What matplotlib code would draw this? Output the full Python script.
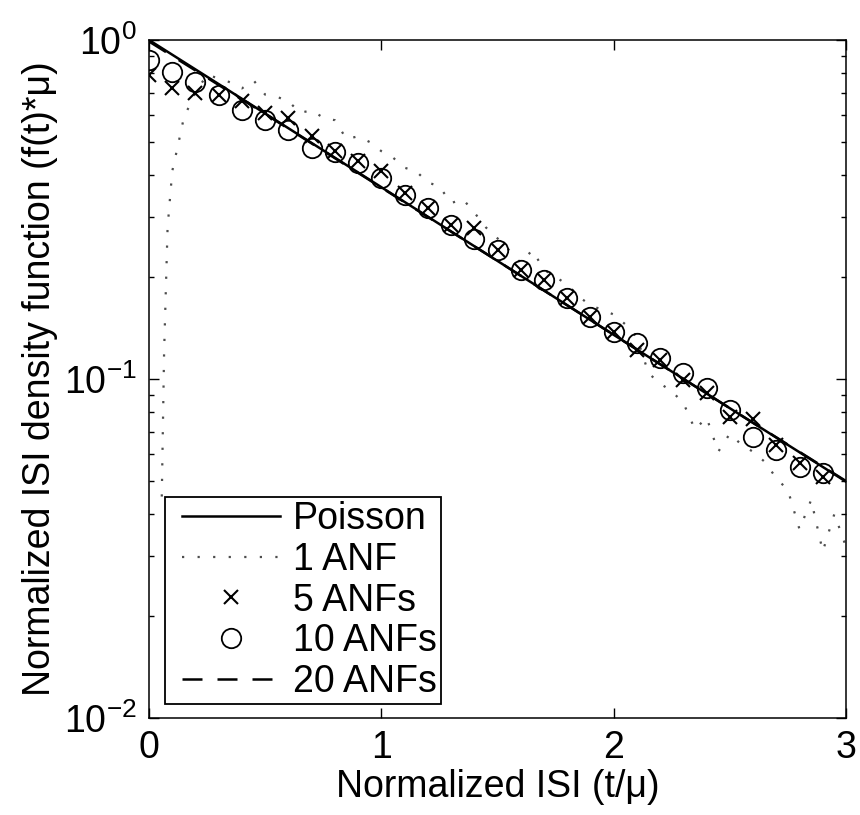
import matplotlib
matplotlib.use("Agg")
import matplotlib.pyplot as plt
from matplotlib.ticker import LogLocator, FixedLocator, NullLocator
from matplotlib.legend_handler import HandlerLine2D
from matplotlib.lines import Line2D

plt.rcParams['font.family'] = ['Liberation Sans', 'DejaVu Sans']
plt.rcParams['mathtext.fontset'] = 'custom'
plt.rcParams['mathtext.rm'] = 'Liberation Sans'
plt.rcParams['mathtext.it'] = 'Liberation Sans'
plt.rcParams['mathtext.bf'] = 'Liberation Sans'

# ---- data ----
poisson_t = [0.0, 0.5, 1.0, 1.5, 2.0, 2.5, 3.0]
poisson_v = [1.0, 0.607, 0.368, 0.223, 0.135, 0.082, 0.0498]

anf1_t = [0.055, 0.065, 0.08, 0.10, 0.125, 0.15, 0.20, 0.25, 0.30, 0.35, 0.40, 0.45,
          0.50, 0.55, 0.60, 0.65, 0.70, 0.75, 0.80, 0.85, 0.90, 0.95, 1.00, 1.05,
          1.10, 1.15, 1.20, 1.25, 1.30, 1.35, 1.40, 1.45, 1.50, 1.55, 1.60, 1.65,
          1.70, 1.75, 1.80, 1.85, 1.90, 1.95, 2.00, 2.05, 2.10, 2.15, 2.20, 2.25,
          2.30, 2.35, 2.40, 2.45, 2.50, 2.55, 2.60, 2.65, 2.70, 2.75, 2.80, 2.85,
          2.90, 2.95, 3.00]
anf1_v = [0.045, 0.12, 0.28, 0.41, 0.49, 0.59, 0.70, 0.79, 0.77, 0.75, 0.72, 0.76,
          0.69, 0.68, 0.66, 0.61, 0.62, 0.59, 0.58, 0.51, 0.52, 0.50, 0.47, 0.45,
          0.42, 0.41, 0.38, 0.37, 0.33, 0.34, 0.31, 0.28, 0.26, 0.24, 0.22, 0.24,
          0.21, 0.20, 0.19, 0.175, 0.165, 0.16, 0.155, 0.145, 0.133, 0.104, 0.097, 0.092,
          0.085, 0.071, 0.077, 0.061, 0.069, 0.064, 0.061, 0.057, 0.051, 0.047, 0.036, 0.044,
          0.031, 0.040, 0.032]

bins_t = [0.0, 0.1, 0.2, 0.3, 0.4, 0.5, 0.6, 0.7, 0.8, 0.9, 1.0, 1.1, 1.2, 1.3, 1.4,
          1.5, 1.6, 1.7, 1.8, 1.9, 2.0, 2.1, 2.2, 2.3, 2.4, 2.5, 2.6, 2.7, 2.8, 2.9]
anf5_v = [0.79, 0.72, 0.70, 0.69, 0.66, 0.61, 0.59, 0.52, 0.47, 0.44, 0.41, 0.354,
          0.32, 0.285, 0.279, 0.24, 0.21, 0.196, 0.173, 0.152, 0.138, 0.122, 0.114,
          0.099, 0.091, 0.077, 0.076, 0.064, 0.0566, 0.0515]
anf10_v = [0.873, 0.805, 0.752, 0.688, 0.622, 0.581, 0.543, 0.480, 0.467, 0.434, 0.392,
           0.349, 0.319, 0.285, 0.259, 0.240, 0.210, 0.196, 0.173, 0.152, 0.138, 0.128,
           0.115, 0.104, 0.094, 0.081, 0.0676, 0.0618, 0.0551, 0.0528]

anf20_t = [0.0, 0.5, 1.0, 1.5, 2.0, 2.5, 3.0]
anf20_v = [0.99, 0.605, 0.367, 0.223, 0.135, 0.082, 0.050]

labels = ['Poisson', '1 ANF', '5 ANFs', '10 ANFs', '20 ANFs']


class ShiftedLine(HandlerLine2D):
    """Line handler whose drawn line starts a bit inside the handle box."""
    def __init__(self, shift, **kw):
        super().__init__(**kw)
        self.shift = shift

    def get_xdata(self, legend, xdescent, ydescent, width, height, fontsize):
        return super().get_xdata(legend, xdescent - self.shift, ydescent,
                                 width - self.shift, height, fontsize)


# ---- figure ----
fig = plt.figure(figsize=(8.6, 8.15), dpi=100)
ax = fig.add_axes([149/860, 97/815, 697/860, 678/815])

ax.plot(poisson_t, poisson_v, color='black', lw=1.8, label=labels[0])
ax.plot(anf1_t, anf1_v, color='0.3', lw=1.6, dashes=(1, 6), label=labels[1])
ax.plot(bins_t, anf5_v, ls='none', marker='x', ms=10, mew=1.5, color='black', label=labels[2])
ax.plot(bins_t, anf10_v, ls='none', marker='o', ms=14, mew=1.3, mfc='none', mec='black', label=labels[3])
ax.plot(anf20_t, anf20_v, color='black', lw=1.8, dashes=(8, 6), label=labels[4])

ax.set_yscale('log')
ax.set_xlim(0, 3)
ax.set_ylim(1e-2, 1)
ax.xaxis.set_major_locator(FixedLocator([0, 1, 2, 3]))
ax.xaxis.set_minor_locator(NullLocator())
ax.yaxis.set_major_locator(LogLocator(base=10, numticks=5))
ax.yaxis.set_minor_locator(LogLocator(base=10, subs=range(2, 10), numticks=20))

ax.tick_params(which='both', direction='in', top=True, right=True, labelsize=27, width=1.0)
ax.tick_params(which='major', length=7, pad=9)
ax.tick_params(which='minor', length=3.5)
for s in ax.spines.values():
    s.set_linewidth(1.1)

ax.set_xlabel('Normalized ISI (t/\u03bc)', fontsize=27, labelpad=2)
ax.set_ylabel('Normalized ISI density function (f(t)*\u03bc)', fontsize=27, labelpad=4)

leg = ax.legend(loc='lower left', bbox_to_anchor=(0.023, 0.0206), borderaxespad=0,
                fontsize=27, frameon=True, fancybox=False, framealpha=1,
                edgecolor='black', handlelength=2.97, handletextpad=0.35,
                labelspacing=0.13, borderpad=0.1, numpoints=1,
                handler_map={Line2D: ShiftedLine(9.5)})
leg.get_frame().set_linewidth(1.3)

fig.savefig('out.png', dpi=100)
